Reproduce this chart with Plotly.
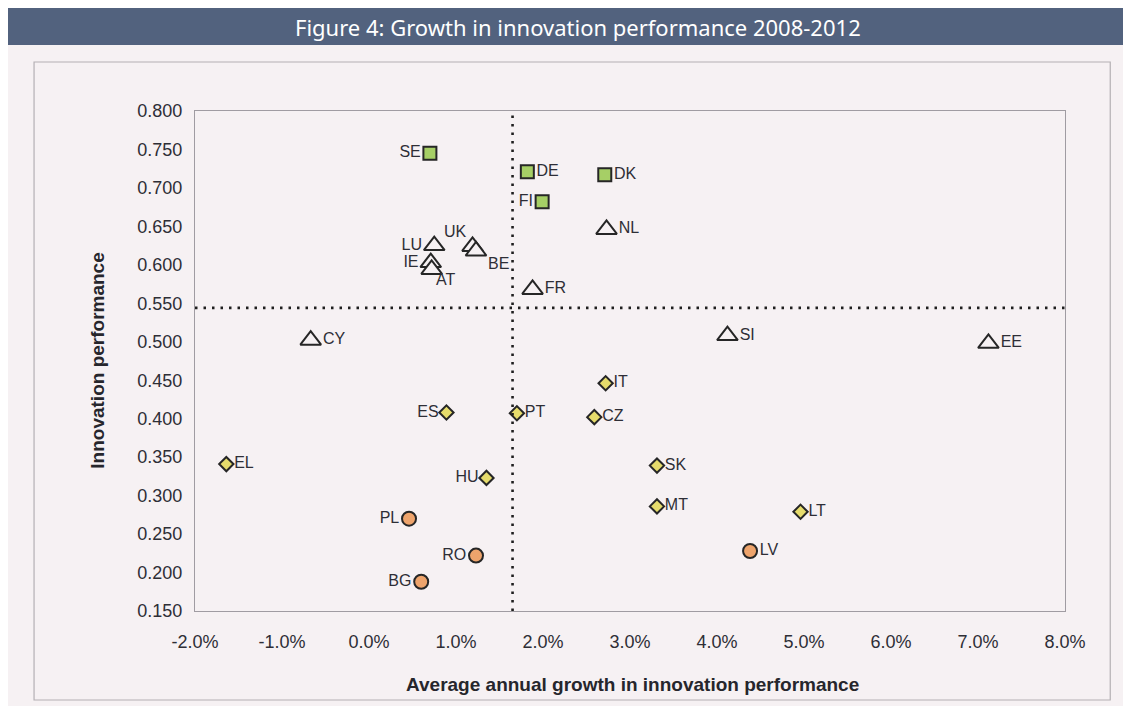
import plotly.graph_objects as go

# ---- data ----
leaders = ["SE", "DE", "DK", "FI"]
leaders_growth = [0.70, 1.82, 2.71, 1.99]
leaders_perf = [0.745, 0.721, 0.717, 0.682]
leaders_pos = ["middle left", "middle right", "middle right", "middle left"]

followers = ["LU", "UK", "BE", "IE", "AT", "FR", "NL", "CY", "SI", "EE"]
followers_growth = [0.75, 1.19, 1.23, 0.71, 0.72, 1.88, 2.73, -0.67, 4.12, 7.12]
followers_perf = [0.625, 0.624, 0.618, 0.603, 0.594, 0.568, 0.646, 0.502, 0.508, 0.498]
followers_pos = ["middle left", "top left", "bottom right", "middle left", "bottom right",
                 "middle right", "middle right", "middle right", "middle right", "middle right"]

moderate = ["IT", "CZ", "ES", "PT", "EL", "HU", "SK", "MT", "LT"]
moderate_growth = [2.72, 2.59, 0.89, 1.70, -1.64, 1.35, 3.31, 3.31, 4.96]
moderate_perf = [0.446, 0.402, 0.408, 0.407, 0.341, 0.323, 0.339, 0.286, 0.279]
moderate_pos = ["middle right", "middle right", "middle left", "middle right", "middle right",
                "middle left", "middle right", "middle right", "middle right"]

modest = ["PL", "RO", "BG", "LV"]
modest_growth = [0.46, 1.23, 0.60, 4.38]
modest_perf = [0.270, 0.222, 0.188, 0.228]
modest_pos = ["middle left", "middle left", "middle left", "middle right"]

eu_growth = 1.65
eu_perf = 0.544

x_range = [-2, 8]
y_range = [0.15, 0.80]
x_tickvals = [-2, -1, 0, 1, 2, 3, 4, 5, 6, 7, 8]
x_ticktext = ["-2.0%", "-1.0%", "0.0%", "1.0%", "2.0%", "3.0%", "4.0%", "5.0%", "6.0%", "7.0%", "8.0%"]

title_text = "Figure 4: Growth in innovation performance 2008-2012"
x_title = "Average annual growth in innovation performance"
y_title = "Innovation performance"

# labels placed by hand-tuned pixel offsets (crowded cluster)
offset_labels = {"UK": (-17, 15), "BE": (22, -12), "AT": (14, -10)}

BG = "#f6f1f3"
LBL = dict(family="Liberation Sans, Arial, sans-serif", size=16, color="#2e2e36")

fig = go.Figure()
annotations = []

def add(names, xs, ys, pos, symbol, size, fill):
    texts = []
    for n, x, y in zip(names, xs, ys):
        if n in offset_labels:
            dx, dy = offset_labels[n]
            annotations.append(dict(text=n, x=x, y=y, xref="x", yref="y", showarrow=False,
                                    xshift=dx, yshift=dy, font=LBL))
            texts.append("")
        else:
            texts.append(n)
    fig.add_trace(go.Scatter(
        x=xs, y=ys, mode="markers+text", text=texts, textposition=pos,
        textfont=LBL, cliponaxis=False, showlegend=False,
        marker=dict(symbol=symbol, size=size, color=fill,
                    line=dict(color="#262626", width=2)),
    ))

add(leaders, leaders_growth, leaders_perf, leaders_pos, "square", 13, "#a6cf66")
add(followers, followers_growth, followers_perf, followers_pos, "triangle-up", 18, BG)
add(moderate, moderate_growth, moderate_perf, moderate_pos, "diamond", 11, "#e6dc6c")
add(modest, modest_growth, modest_perf, modest_pos, "circle", 14, "#eea46c")

shapes = [
    # title band
    dict(type="rect", xref="paper", yref="paper", x0=-0.215, x1=1.09, y0=1.132, y1=1.206,
         fillcolor="#52627e", line=dict(width=0), layer="below"),
    # outer frame
    dict(type="rect", xref="paper", yref="paper", x0=-0.185, x1=1.052, y0=-0.178, y1=1.098,
         fillcolor="rgba(0,0,0,0)", line=dict(color="#b4b0b4", width=1.2), layer="below"),
    # reference lines
    dict(type="line", xref="x", yref="y", x0=eu_growth, x1=eu_growth, y0=y_range[0], y1=y_range[1],
         line=dict(color="#1e1e1e", width=2.6, dash="2.5px,6px")),
    dict(type="line", xref="x", yref="y", x0=x_range[0], x1=x_range[1], y0=eu_perf, y1=eu_perf,
         line=dict(color="#1e1e1e", width=2.6, dash="2.5px,6px")),
]

annotations += [
    dict(text=title_text, xref="paper", yref="paper", x=0.44, y=1.168, showarrow=False,
         font=dict(family="Noto Sans, Open Sans, sans-serif", size=22, color="white"),
         xanchor="center", yanchor="middle"),
    dict(text="<b>" + x_title + "</b>", xref="paper", yref="paper", x=0.503, y=-0.146,
         showarrow=False, xanchor="center", yanchor="middle",
         font=dict(family="Liberation Sans, Arial, sans-serif", size=19, color="#26262c")),
    dict(text="<b>" + y_title + "</b>", xref="paper", yref="paper", x=-0.113, y=0.5,
         showarrow=False, xanchor="center", yanchor="middle", textangle=-90,
         font=dict(family="Liberation Sans, Arial, sans-serif", size=19, color="#26262c")),
]

tickfont = dict(family="Liberation Sans, Arial, sans-serif", size=18, color="#2e2e36")

fig.update_layout(
    width=1131, height=706,
    margin=dict(l=187, r=74, t=103, b=103),
    paper_bgcolor=BG, plot_bgcolor=BG,
    shapes=shapes, annotations=annotations, showlegend=False,
    xaxis=dict(range=x_range, tickvals=x_tickvals, ticktext=x_ticktext,
               showgrid=False, zeroline=False, showline=True, mirror=True,
               linecolor="#a09ca2", linewidth=1.2, ticks="outside", ticklen=14,
               tickcolor="rgba(0,0,0,0)", tickfont=tickfont),
    yaxis=dict(range=y_range, dtick=0.05, tick0=0.15, tickformat=".3f",
               showgrid=False, zeroline=False, showline=True, mirror=True,
               linecolor="#a09ca2", linewidth=1.2, ticks="outside", ticklen=8,
               tickcolor="rgba(0,0,0,0)", tickfont=tickfont),
)

fig.write_html("out.html")
